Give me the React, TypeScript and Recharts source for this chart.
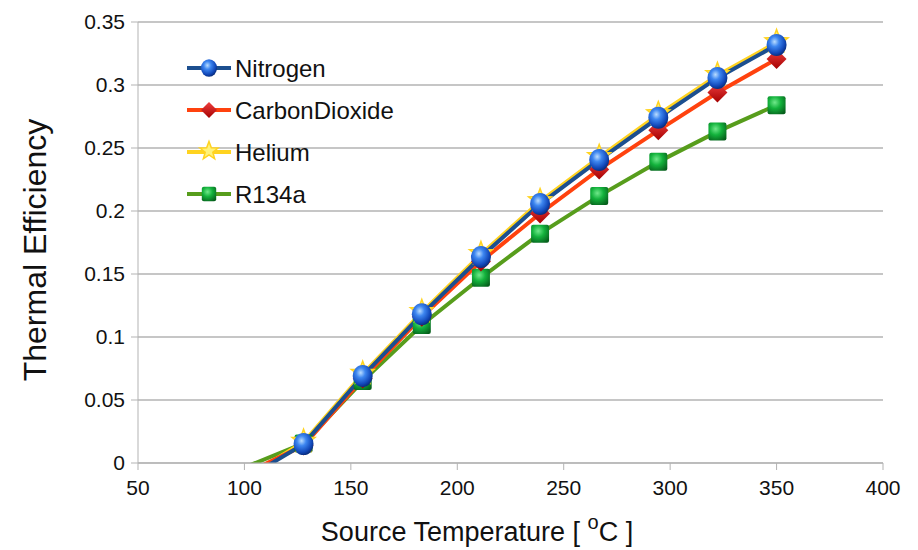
import React from "react";
import { LineChart, Line, XAxis, YAxis, CartesianGrid, Label } from "recharts";

// source temperature in °C (212 °F .. 662 °F in 50 °F steps)
const temps = [100, 127.78, 155.56, 183.33, 211.11, 238.89, 266.67, 294.44, 322.22, 350];

const nitrogen = [-0.0132, 0.015, 0.069, 0.118, 0.1635, 0.2055, 0.2405, 0.274, 0.3056, 0.3317];
const co2 = [-0.0087, 0.0138, 0.067, 0.116, 0.16, 0.198, 0.233, 0.264, 0.294, 0.3206];
const helium = [-0.012, 0.0165, 0.0705, 0.1195, 0.1655, 0.2075, 0.2425, 0.2765, 0.3076, 0.3337];
const r134a = [-0.0035, 0.0155, 0.065, 0.1095, 0.147, 0.182, 0.212, 0.239, 0.263, 0.284];

const xTicks = [50, 100, 150, 200, 250, 300, 350, 400];
const yTicks = [0, 0.05, 0.1, 0.15, 0.2, 0.25, 0.3, 0.35];

const data = temps.map((t, i) => ({
  t,
  nitrogen: nitrogen[i],
  co2: co2[i],
  helium: helium[i],
  r134a: r134a[i],
}));

const FONT = "'Liberation Sans', Arial, sans-serif";

type Shape = "sphere" | "diamond" | "star" | "square";

const series: { key: string; name: string; color: string; shape: Shape }[] = [
  { key: "nitrogen", name: "Nitrogen", color: "#1c4f8f", shape: "sphere" },
  { key: "co2", name: "CarbonDioxide", color: "#ff420e", shape: "diamond" },
  { key: "helium", name: "Helium", color: "#ffd320", shape: "star" },
  { key: "r134a", name: "R134a", color: "#579d1c", shape: "square" },
];

function starPoints(cx: number, cy: number, ro: number, ri: number) {
  const pts: string[] = [];
  for (let k = 0; k < 10; k++) {
    const r = k % 2 === 0 ? ro : ri;
    const a = -Math.PI / 2 + (k * Math.PI) / 5;
    pts.push(`${cx + r * Math.cos(a)},${cy + r * Math.sin(a)}`);
  }
  return pts.join(" ");
}

function Marker({ shape, cx, cy, s = 1 }: { shape: Shape; cx: number; cy: number; s?: number }) {
  if (shape === "sphere") {
    return <ellipse cx={cx} cy={cy} rx={10 * s} ry={11 * s} fill="url(#gSphere)" />;
  }
  if (shape === "diamond") {
    const r = 10 * s;
    return (
      <polygon
        points={`${cx},${cy - r} ${cx + r},${cy} ${cx},${cy + r} ${cx - r},${cy}`}
        fill="url(#gDiamond)"
      />
    );
  }
  if (shape === "star") {
    return <polygon points={starPoints(cx, cy - 1, 12 * s, 5 * s)} fill="#fff27a" stroke="#ffd320" strokeWidth={1.5} />;
  }
  const h = 9 * s;
  return <rect x={cx - h} y={cy - h} width={2 * h} height={2 * h} rx={2} fill="url(#gSquare)" />;
}

const makeDot = (shape: Shape) => (props: any) => {
  const { cx, cy, value, index } = props;
  if (value < 0 || cx == null || cy == null) return <g key={index} />;
  return (
    <g key={index}>
      <Marker shape={shape} cx={cx} cy={cy} />
    </g>
  );
};

function Gradients() {
  return (
    <defs>
      <radialGradient id="gSphere" cx="40%" cy="35%" r="65%">
        <stop offset="0%" stopColor="#b9dcff" />
        <stop offset="35%" stopColor="#3d86f0" />
        <stop offset="80%" stopColor="#1147b8" />
        <stop offset="100%" stopColor="#0a2f80" />
      </radialGradient>
      <linearGradient id="gDiamond" x1="0" y1="0" x2="0" y2="1">
        <stop offset="0%" stopColor="#f04040" />
        <stop offset="100%" stopColor="#a40000" />
      </linearGradient>
      <radialGradient id="gSquare" cx="40%" cy="35%" r="75%">
        <stop offset="0%" stopColor="#6fe88a" />
        <stop offset="45%" stopColor="#13b23c" />
        <stop offset="100%" stopColor="#06601c" />
      </radialGradient>
    </defs>
  );
}

// legend sits inside the plot area, top-left, no frame
function LegendBox() {
  return (
    <svg width={260} height={180} style={{ position: "absolute", left: 187, top: 48, overflow: "visible" }}>
      {series.map((s, i) => {
        const y = 20 + i * 42;
        return (
          <g key={s.key}>
            <line x1={0} x2={44} y1={y} y2={y} stroke={s.color} strokeWidth={4} />
            <Marker shape={s.shape} cx={22} cy={y} s={0.8} />
            <text x={48} y={y + 9} fontSize={24} fontFamily={FONT} fill="#111">
              {s.name}
            </text>
          </g>
        );
      })}
    </svg>
  );
}

const XLabel = () => (
  <text x={477} y={541} textAnchor="middle" fontSize={27} fontFamily={FONT} fill="#111">
    Source Temperature [ <tspan dy={-12} fontSize={20}>o</tspan>
    <tspan dy={12}>C ]</tspan>
  </text>
);

const YLabel = () => (
  <text
    x={46}
    y={250}
    transform="rotate(-90 46 250)"
    textAnchor="middle"
    fontSize={32}
    fontFamily={FONT}
    fill="#111"
  >
    Thermal Efficiency
  </text>
);

export default function App() {
  const order = [series[3], series[2], series[1], series[0]];
  return (
    <div style={{ position: "absolute", left: 0, top: 0, width: 918, height: 550, background: "#fff" }}>
      <LineChart width={918} height={550} data={data} margin={{ top: 22, right: 35, left: 0, bottom: 0 }}>
        <Gradients />
        <CartesianGrid vertical={false} stroke="#b3b3b3" strokeWidth={1.5} />
        <XAxis
          dataKey="t"
          type="number"
          domain={[50, 400]}
          ticks={xTicks}
          allowDataOverflow
          height={87}
          stroke="#b3b3b3"
          tickSize={7}
          tick={{ fill: "#111", fontSize: 21, fontFamily: FONT, dy: 8 }}
          tickLine={{ stroke: "#b3b3b3" }}
        >
          <Label content={XLabel} />
        </XAxis>
        <YAxis
          type="number"
          domain={[0, 0.35]}
          ticks={yTicks}
          allowDataOverflow
          width={138}
          stroke="#b3b3b3"
          tickSize={7}
          tick={{ fill: "#111", fontSize: 21, fontFamily: FONT, dx: -4 }}
          tickLine={{ stroke: "#b3b3b3" }}
        >
          <Label content={YLabel} />
        </YAxis>
        {order.map((s) => (
          <Line
            key={s.key}
            dataKey={s.key}
            name={s.name}
            stroke={s.color}
            strokeWidth={4}
            dot={makeDot(s.shape)}
            activeDot={false}
            isAnimationActive={false}
          />
        ))}
      </LineChart>
      <LegendBox />
    </div>
  );
}
